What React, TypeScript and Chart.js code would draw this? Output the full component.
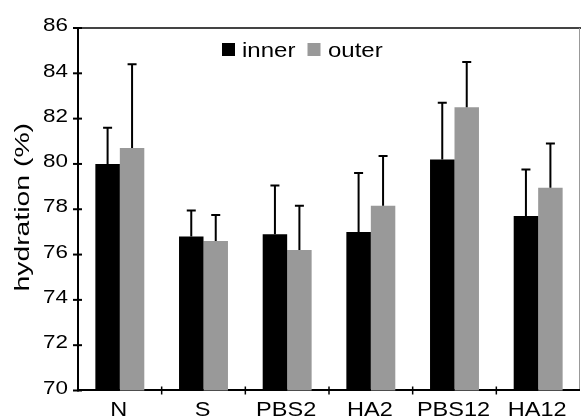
import React, { useEffect, useRef } from "react";
import { Chart, registerables } from "chart.js";

Chart.register(...registerables);

const categories = ["N", "S", "PBS2", "HA2", "PBS12", "HA12"];
const innerValues = [80.0, 76.8, 76.9, 77.0, 80.2, 77.7];
const outerValues = [80.7, 76.6, 76.2, 78.15, 82.5, 78.95];
const innerErrors = [1.6, 1.15, 2.15, 2.6, 2.5, 2.05];
const outerErrors = [3.7, 1.15, 1.95, 2.2, 2.0, 1.95];
const seriesNames = ["inner", "outer"];
const yMin = 70;
const yMax = 86;
const yStep = 2;
const yTitle = "hydration (%)";

const FONT = "'Liberation Sans', Arial, Helvetica, sans-serif";

function drawText(
  ctx: CanvasRenderingContext2D,
  text: string,
  x: number,
  y: number,
  size: number,
  sx: number,
  align: CanvasTextAlign,
  baseline: CanvasTextBaseline
) {
  ctx.save();
  ctx.translate(x, y);
  ctx.scale(sx, 1);
  ctx.font = `${size}px ${FONT}`;
  ctx.fillStyle = "#000";
  ctx.textAlign = align;
  ctx.textBaseline = baseline;
  ctx.fillText(text, 0, 0);
  ctx.restore();
}

const framePlugin = {
  id: "frame",
  beforeDatasetsDraw(chart: any) {
    const { ctx, chartArea, scales } = chart;
    const { left, right, top, bottom } = chartArea;
    ctx.save();
    // top line
    ctx.strokeStyle = "#444";
    ctx.lineWidth = 2;
    ctx.beginPath();
    ctx.moveTo(left, top);
    ctx.lineTo(chart.width, top);
    ctx.stroke();
    // right line
    ctx.strokeStyle = "#999";
    ctx.lineWidth = 1;
    ctx.beginPath();
    ctx.moveTo(right - 0.5, top);
    ctx.lineTo(right - 0.5, bottom);
    ctx.stroke();
    // bottom axis
    ctx.strokeStyle = "#000";
    ctx.lineWidth = 2;
    ctx.beginPath();
    ctx.moveTo(left, bottom - 0.5);
    ctx.lineTo(right, bottom - 0.5);
    ctx.stroke();
    // left axis
    ctx.beginPath();
    ctx.moveTo(left, top);
    ctx.lineTo(left, bottom + 1);
    ctx.stroke();
    // y ticks
    const ys = scales.y;
    ys.ticks.forEach((t: any) => {
      const py = ys.getPixelForValue(t.value);
      ctx.beginPath();
      ctx.moveTo(left - 5, py);
      ctx.lineTo(left + 4, py);
      ctx.stroke();
    });
    // x ticks at category boundaries
    const xs = scales.x;
    ctx.lineWidth = 1.5;
    for (let i = 0; i < categories.length - 1; i++) {
      const px = (xs.getPixelForValue(i) + xs.getPixelForValue(i + 1)) / 2;
      ctx.beginPath();
      ctx.moveTo(px, bottom - 4);
      ctx.lineTo(px, bottom + 4);
      ctx.stroke();
    }
    ctx.restore();
  },
  afterDraw(chart: any) {
    const { ctx, chartArea, scales } = chart;
    const ys = scales.y;
    const xs = scales.x;
    const errs = [innerErrors, outerErrors];
    ctx.save();
    ctx.strokeStyle = "#000";
    ctx.lineWidth = 2;
    chart.data.datasets.forEach((ds: any, di: number) => {
      const meta = chart.getDatasetMeta(di);
      meta.data.forEach((el: any, i: number) => {
        const v = ds.data[i];
        const yTop = ys.getPixelForValue(v + errs[di][i]);
        const yBar = ys.getPixelForValue(v);
        ctx.beginPath();
        ctx.moveTo(el.x, yBar);
        ctx.lineTo(el.x, yTop);
        ctx.moveTo(el.x - 4.5, yTop);
        ctx.lineTo(el.x + 4.5, yTop);
        ctx.stroke();
      });
    });
    ctx.restore();

    // y tick labels
    ys.ticks.forEach((t: any) => {
      const py = ys.getPixelForValue(t.value);
      drawText(ctx, String(t.value), chartArea.left - 10, py - 2, 19, 1.18, "right", "middle");
    });
    // x labels
    categories.forEach((c, i) => {
      drawText(ctx, c, xs.getPixelForValue(i) - 1, 416, 21, 1.12, "center", "alphabetic");
    });
    // y title
    ctx.save();
    ctx.translate(23, (chartArea.top + chartArea.bottom) / 2 - 2);
    ctx.rotate(-Math.PI / 2);
    ctx.scale(1.35, 1);
    ctx.font = `21px ${FONT}`;
    ctx.fillStyle = "#000";
    ctx.textAlign = "center";
    ctx.textBaseline = "middle";
    ctx.fillText(yTitle, 0, 0);
    ctx.restore();

    // legend
    const colors = chart.data.datasets.map((d: any) => d.backgroundColor);
    ctx.save();
    ctx.fillStyle = colors[0];
    ctx.fillRect(222, 43, 13, 13);
    ctx.fillStyle = colors[1];
    ctx.fillRect(307.5, 43, 13, 13);
    ctx.restore();
    drawText(ctx, seriesNames[0], 242, 56.5, 20, 1.2, "left", "alphabetic");
    drawText(ctx, seriesNames[1], 328, 56.5, 20, 1.2, "left", "alphabetic");
  },
};

export default function App() {
  const ref = useRef<HTMLCanvasElement | null>(null);
  useEffect(() => {
    document.body.style.margin = "0";
    const canvas = ref.current!;
    const chart = new Chart(canvas, {
      type: "bar",
      data: {
        labels: categories,
        datasets: [
          {
            label: seriesNames[0],
            data: innerValues,
            backgroundColor: "#000000",
            borderWidth: 0,
            categoryPercentage: 0.585,
            barPercentage: 1,
          },
          {
            label: seriesNames[1],
            data: outerValues,
            backgroundColor: "#999999",
            borderWidth: 0,
            categoryPercentage: 0.585,
            barPercentage: 1,
          },
        ],
      },
      options: {
        responsive: false,
        animation: false,
        devicePixelRatio: 1,
        layout: { padding: { top: 28, right: 1, left: 0, bottom: 0 } },
        plugins: {
          legend: { display: false },
          tooltip: { enabled: false },
          title: { display: false },
        },
        scales: {
          x: {
            grid: { display: false },
            border: { display: false },
            ticks: { display: false },
            afterFit: (s: any) => {
              s.height = 27.5;
            },
          },
          y: {
            min: yMin,
            max: yMax,
            grid: { display: false },
            border: { display: false },
            ticks: { display: false, stepSize: yStep },
            afterFit: (s: any) => {
              s.width = 78;
            },
          },
        },
      },
      plugins: [framePlugin],
    });
    return () => chart.destroy();
  }, []);
  return <canvas ref={ref} width={581} height={418} style={{ display: "block" }} />;
}
